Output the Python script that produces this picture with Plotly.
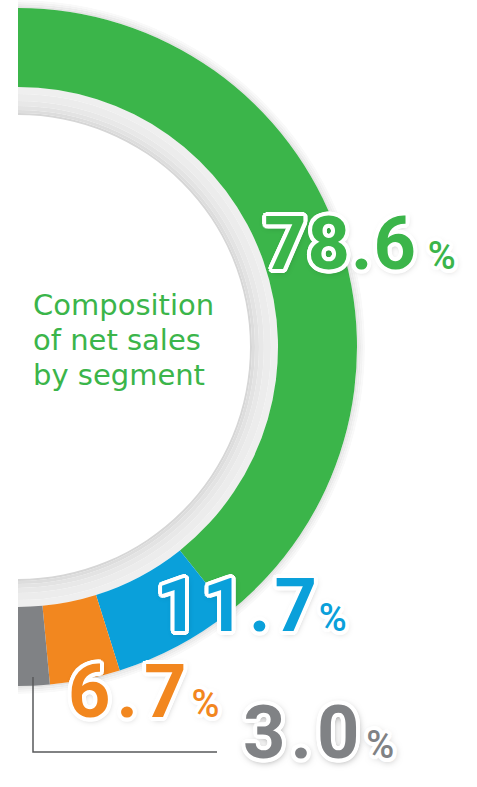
import numpy as np
import plotly.graph_objects as go

# ---------------- data ----------------
segments = ["Segment 1", "Segment 2", "Segment 3", "Segment 4"]
share_pct = [78.6, 11.7, 6.7, 3.0]
title_lines = ["Composition", "of net sales", "by segment"]

# ---------------- style ----------------
W, H = 477, 787
colors = ["#3bb54a", "#0aa0da", "#f2871f", "#808285"]
CX, CY = 18, 347          # donut centre (px)
R_POLAR = 347             # radius of polar area (px)
R_HOLE = 230
R_IN, R_OUT = 260, 339    # coloured ring

def px(x):
    return x / W

def py(y):
    return 1 - y / H

pct = np.array(share_pct, dtype=float)
deg = pct * 180.0 / pct.sum()
theta_c = np.cumsum(deg) - deg / 2

fig = go.Figure()

# inner grey shadow ring (decorative)
ring_bands = [(232, 234, "#d6d6d6"), (234, 237, "#dddddd"), (237, 241, "#e3e3e3"),
              (241, 246, "#e8e8e8"), (246, 253, "#ececec"), (253, 260, "#efefef")]
for r0, r1, c in ring_bands:
    fig.add_trace(go.Barpolar(theta=[90], width=[180], base=[r0], r=[r1 - r0],
                              marker=dict(color=c, line=dict(width=0)),
                              hoverinfo="skip", showlegend=False))

# outer soft shadow (decorative)
glow_bands = [(339, 341, "#e4e4e4"), (341, 343, "#ececec"), (343, 345, "#f3f3f3"), (345, 347, "#f9f9f9")]
for r0, r1, c in glow_bands:
    fig.add_trace(go.Barpolar(theta=[90], width=[180], base=[r0], r=[r1 - r0],
                              marker=dict(color=c, line=dict(width=0)),
                              hoverinfo="skip", showlegend=False))

# coloured segments
fig.add_trace(go.Barpolar(
    theta=theta_c, width=deg, base=[R_IN] * len(pct), r=[R_OUT - R_IN] * len(pct),
    marker=dict(color=colors, line=dict(width=0)),
    text=segments, hoverinfo="text", showlegend=False,
))

fig.update_layout(
    width=W, height=H,
    margin=dict(l=0, r=0, t=0, b=0),
    paper_bgcolor="white", plot_bgcolor="white",
    showlegend=False,
    polar=dict(
        domain=dict(x=[px(CX), px(CX + R_POLAR)], y=[py(CY + R_POLAR), py(CY - R_POLAR)]),
        sector=[-90, 90],
        hole=R_HOLE / R_POLAR,
        bgcolor="rgba(0,0,0,0)",
        bargap=0,
        radialaxis=dict(range=[R_HOLE, R_POLAR], visible=False, showgrid=False, showline=False,
                        showticklabels=False, ticks=""),
        angularaxis=dict(visible=False, rotation=90, direction="clockwise", showgrid=False,
                         showline=False, showticklabels=False, ticks=""),
    ),
)

# outline + drop-shadow for the big numbers
o = 4
offs = []
for a in range(0, 360, 22):
    dx = o * np.cos(np.radians(a))
    dy = o * np.sin(np.radians(a))
    offs.append(f"{dx:.1f}px {dy:.1f}px 0 #ffffff")
outline_soft = ", ".join(offs + ["1px 2px 7px rgba(0,0,0,0.35)"])
outline_dark = ", ".join(offs + ["1px 2px 8px rgba(0,0,0,0.6)"])

# label placement: left x, baseline y (px), letter spacing, gap before %
label_pos = [(262, 270, 1, 12), (154, 632, 4, 2), (66, 718, 6, 5), (241, 759, 5, 7)]
for i, v in enumerate(share_pct):
    x0, base, ls, gap = label_pos[i]
    s = f"{v:.1f}"
    txt = (f"<span style='letter-spacing:{ls}px'>{s[:-1]}</span>{s[-1]}"
           f"<span style='font-size:{gap / 0.248:.0f}px'> </span>"
           f"<span style='font-size:38px;font-weight:500'>%</span>")
    fig.add_annotation(
        x=px(x0), y=py(base + 19), xref="paper", yref="paper",
        xanchor="left", yanchor="bottom", showarrow=False,
        text=txt,
        font=dict(family="Roboto", size=74, weight=700, color=colors[i],
                  shadow=outline_dark if i == 3 else outline_soft),
    )

# centre title: base size 27 sets the 35px line pitch, glyphs drawn at 29px
fig.add_annotation(
    x=px(31), y=py(340), xref="paper", yref="paper",
    xanchor="left", yanchor="middle", align="left", showarrow=False,
    text="<br>".join(f"<span style='font-size:29px'>{t}</span>" for t in title_lines),
    font=dict(family="DejaVu Sans", size=27, color="#3bb54a"),
)

# leader line for the small segment
fig.add_shape(type="path", xref="paper", yref="paper", layer="above",
              path=f"M {px(33)} {py(677)} L {px(33)} {py(752)} L {px(217)} {py(752)}",
              line=dict(color="#58595b", width=1.5))

fig.write_html("out.html")
